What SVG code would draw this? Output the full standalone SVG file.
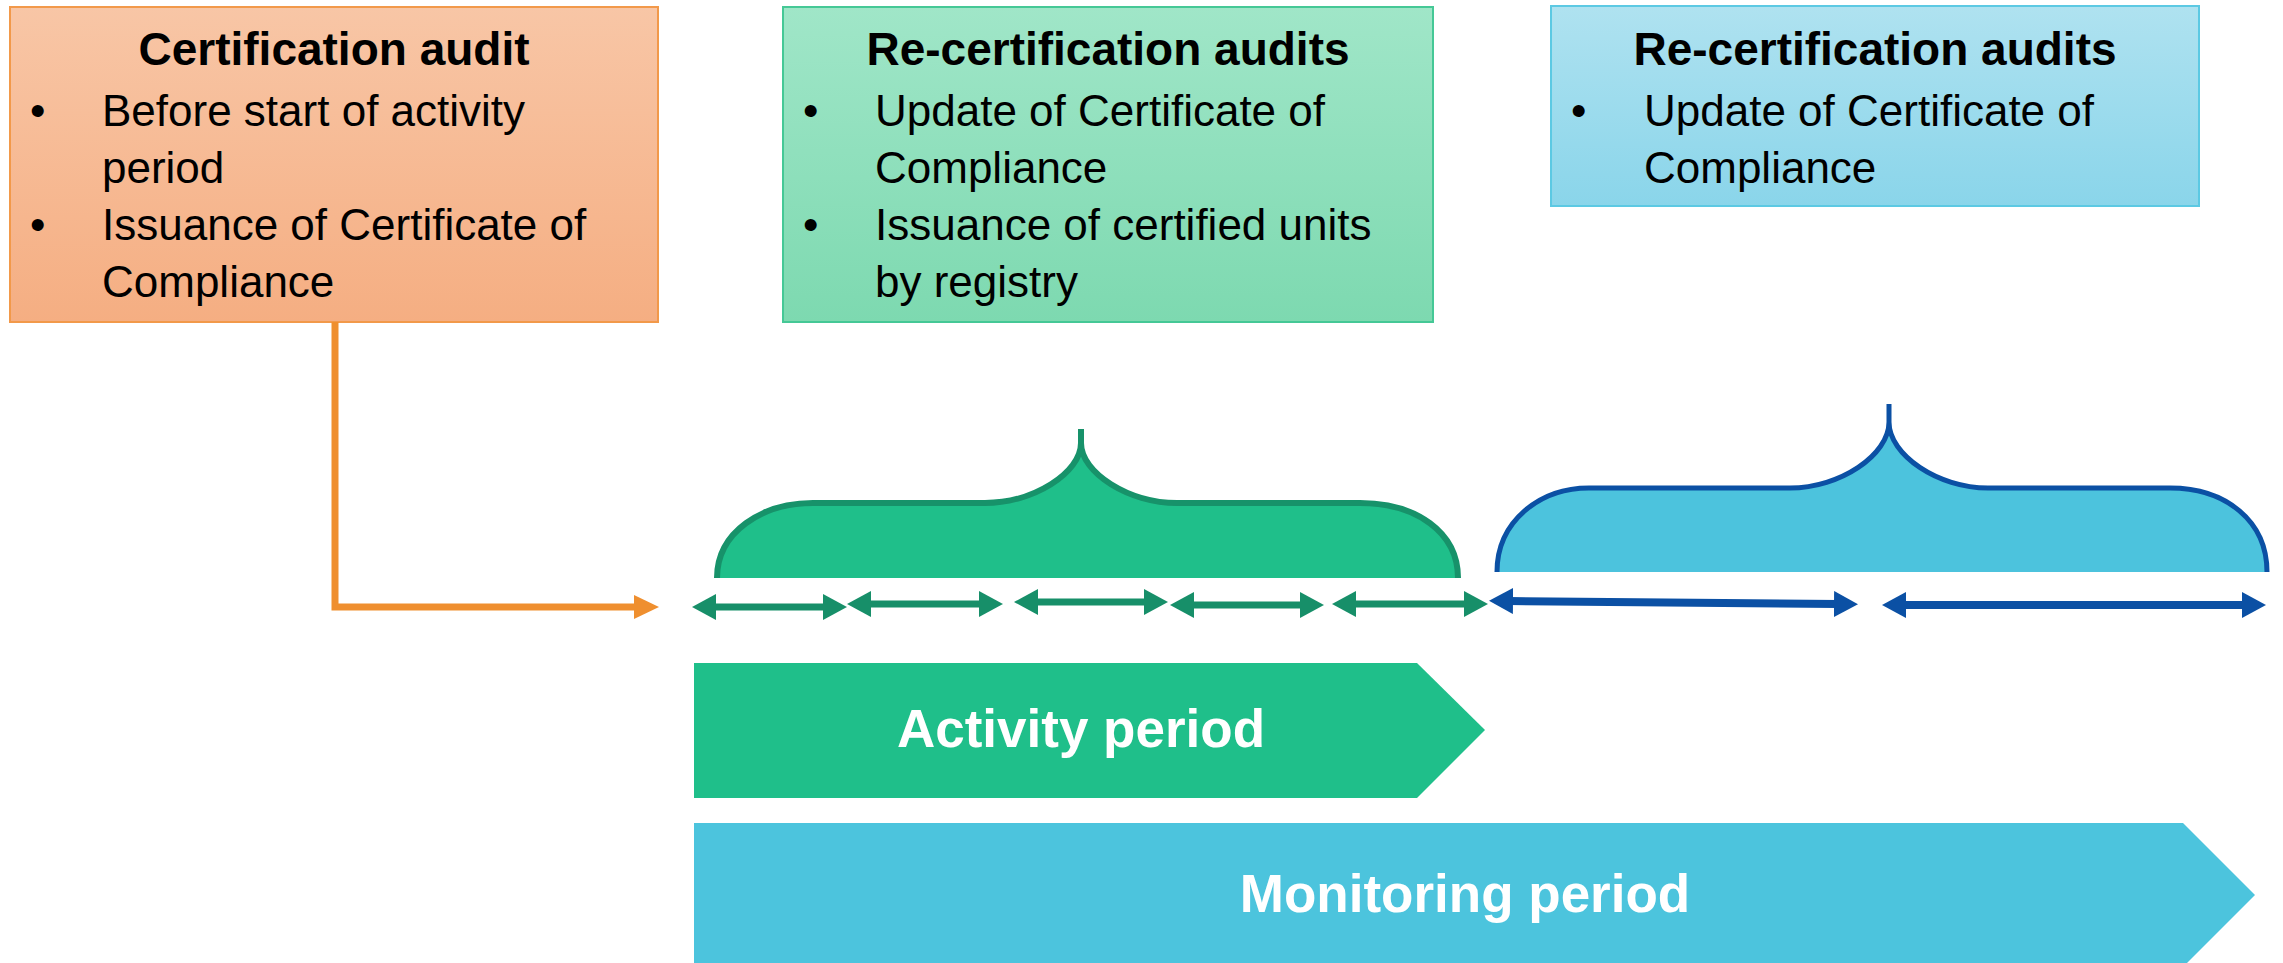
<svg xmlns="http://www.w3.org/2000/svg" width="2283" height="963" viewBox="0 0 2283 963">
<style>
.title{font-family:"Liberation Sans",Arial,sans-serif;font-weight:bold;font-size:46px;fill:#000;text-anchor:middle}
.body{font-family:"Liberation Sans",Arial,sans-serif;font-size:44px;fill:#000}
.band{font-family:"Liberation Sans",Arial,sans-serif;font-weight:bold;font-size:53px;fill:#fff;text-anchor:middle}
.garrow{stroke:#178F69;stroke-width:7;fill:none}
.barrow{stroke:#0B50A4;stroke-width:8;fill:none}
</style>
<defs>
<linearGradient id="gOrange" x1="0" y1="0" x2="0" y2="1"><stop offset="0" stop-color="#F8C6A6"/><stop offset="1" stop-color="#F5AE82"/></linearGradient>
<linearGradient id="gGreen" x1="0" y1="0" x2="0" y2="1"><stop offset="0" stop-color="#A0E6C8"/><stop offset="1" stop-color="#7DD9B0"/></linearGradient>
<linearGradient id="gBlue" x1="0" y1="0" x2="0" y2="1"><stop offset="0" stop-color="#AFE2F0"/><stop offset="1" stop-color="#8AD5EA"/></linearGradient>
<marker id="mOrange" viewBox="0 0 25 24" refX="5" refY="12" markerWidth="25" markerHeight="24" markerUnits="userSpaceOnUse" orient="auto"><path d="M0 0 L25 12 L0 24 Z" fill="#EF8F2F"/></marker>
<marker id="mGreen" viewBox="0 0 24 26" refX="4" refY="13" markerWidth="24" markerHeight="26" markerUnits="userSpaceOnUse" orient="auto-start-reverse"><path d="M0 0 L24 13 L0 26 Z" fill="#178F69"/></marker>
<marker id="mBlue" viewBox="0 0 24 26" refX="4" refY="13" markerWidth="24" markerHeight="26" markerUnits="userSpaceOnUse" orient="auto-start-reverse"><path d="M0 0 L24 13 L0 26 Z" fill="#0B50A4"/></marker>
</defs>
<rect width="2283" height="963" fill="#fff"/>

<g id="certification-audit">
<rect x="10" y="7" width="648" height="315" fill="url(#gOrange)" stroke="#F2994A" stroke-width="2"/>
<text class="title" x="334" y="65">Certification audit</text>
<text class="body" x="30" y="126">•</text>
<text class="body" x="102" y="126">Before start of activity</text>
<text class="body" x="102" y="183">period</text>
<text class="body" x="30" y="240">•</text>
<text class="body" x="102" y="240">Issuance of Certificate of</text>
<text class="body" x="102" y="297">Compliance</text>
</g>

<g id="recert-audits-1">
<rect x="783" y="7" width="650" height="315" fill="url(#gGreen)" stroke="#45C896" stroke-width="2"/>
<text class="title" x="1108" y="65">Re-certification audits</text>
<text class="body" x="803" y="126">•</text>
<text class="body" x="875" y="126">Update of Certificate of</text>
<text class="body" x="875" y="183">Compliance</text>
<text class="body" x="803" y="240">•</text>
<text class="body" x="875" y="240">Issuance of certified units</text>
<text class="body" x="875" y="297">by registry</text>
</g>

<g id="recert-audits-2">
<rect x="1551" y="6" width="648" height="200" fill="url(#gBlue)" stroke="#5CC9E3" stroke-width="2"/>
<text class="title" x="1875" y="65">Re-certification audits</text>
<text class="body" x="1571" y="126">•</text>
<text class="body" x="1644" y="126">Update of Certificate of</text>
<text class="body" x="1644" y="183">Compliance</text>
</g>

<g id="brace-green">
<path d="M717 578 C717 532 762 503 813 503 L985 503 C1033 503 1081 473 1081 443 C1081 473 1129 503 1177 503 L1360 503 C1416 503 1458 532 1458 578 Z" fill="#1FBF8A"/>
<path d="M717 578 C717 532 762 503 813 503 L985 503 C1033 503 1081 473 1081 443 C1081 473 1129 503 1177 503 L1360 503 C1416 503 1458 532 1458 578 M1081 443 L1081 429" fill="none" stroke="#17926A" stroke-width="6"/>
</g>

<g id="brace-blue">
<path d="M1497 572 C1497 521 1540 488 1589 488 L1790 488 C1840 488 1889 455 1889 422 C1889 455 1938 488 1988 488 L2170 488 C2226 488 2267 521 2267 572 Z" fill="#4CC3DD"/>
<path d="M1497 572 C1497 521 1540 488 1589 488 L1790 488 C1840 488 1889 455 1889 422 C1889 455 1938 488 1988 488 L2170 488 C2226 488 2267 521 2267 572 M1889 422 L1889 404" fill="none" stroke="#0B50A4" stroke-width="5"/>
</g>

<g id="activity-period">
<path d="M694 663 L1417 663 L1485 730 L1417 798 L694 798 Z" fill="#1FBF8A"/>
<text class="band" x="1081" y="747">Activity period</text>
</g>

<g id="monitoring-period">
<path d="M694 823 L2183 823 L2255 895 L2183 967 L694 967 Z" fill="#4CC4DD"/>
<text class="band" x="1465" y="912">Monitoring period</text>
</g>

<g id="connectors">
<polyline points="335,322 335,607 639,607" fill="none" stroke="#EF8F2F" stroke-width="7" marker-end="url(#mOrange)"/>
<line class="garrow" x1="712" y1="607" x2="827" y2="607" marker-start="url(#mGreen)" marker-end="url(#mGreen)"/>
<line class="garrow" x1="867" y1="604" x2="983" y2="604" marker-start="url(#mGreen)" marker-end="url(#mGreen)"/>
<line class="garrow" x1="1034" y1="602" x2="1148" y2="602" marker-start="url(#mGreen)" marker-end="url(#mGreen)"/>
<line class="garrow" x1="1190" y1="605" x2="1304" y2="605" marker-start="url(#mGreen)" marker-end="url(#mGreen)"/>
<line class="garrow" x1="1352" y1="604" x2="1468" y2="604" marker-start="url(#mGreen)" marker-end="url(#mGreen)"/>
<line class="barrow" x1="1509" y1="601" x2="1838" y2="604" marker-start="url(#mBlue)" marker-end="url(#mBlue)"/>
<line class="barrow" x1="1902" y1="605" x2="2246" y2="605" marker-start="url(#mBlue)" marker-end="url(#mBlue)"/>
</g>
</svg>
